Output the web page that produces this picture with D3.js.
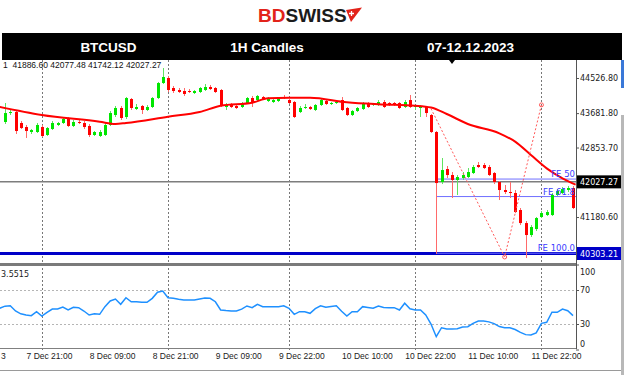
<!DOCTYPE html>
<html>
<head>
<meta charset="utf-8">
<script src="https://cdn.jsdelivr.net/npm/d3@7"></script>
<style>
  body { margin: 0; background: #fff; }
  svg { display: block; }
</style>
</head>
<body>
<div class="canvas"></div>
<script>
// header texts
const headerCells = ['BTCUSD', '1H Candles', '07-12.12.2023']
const headerEdges = [2, 215, 319, 622]

// last bar shown top left
const lastBar = [41886.60, 42077.48, 41742.12, 42027.27]

// hourly candles, 7 Dec 17:00 .. 12 Dec 06:00
const barOpen = [
  43468,43684,43708,43444,43347,43227,43227,43347,43155,43299,
  43396,43444,43540,43372,43468,43444,43372,43155,43131,43155,
  43396,43636,43805,43588,44021,43781,43853,43757,43829,44045,
  44406,44527,44286,44238,44214,44214,44166,44190,44238,44310,
  44286,44238,43829,43877,43853,43829,43925,44045,43997,44069,
  43973,43949,43973,44069,43997,43949,43708,43805,43829,43757,
  43877,43973,43901,43925,43997,43805,43636,43732,43781,43925,
  43877,43877,43949,43925,43925,43925,43829,43997,43829,43805,
  43829,43636,43227,42024,42336,42192,42072,42120,42144,42240,
  42433,42433,42385,42240,42024,41831,41783,41759,41350,41036,
  40748,40892,41181,41229,41229,41711,41759,41831,41879]
const barHigh = [
  43925,43757,43757,43492,43396,43299,43444,43396,43347,43492,
  43468,43588,43588,43516,43516,43492,43420,43251,43275,43444,
  43732,43853,43853,44069,44045,43901,43877,43877,44069,44431,
  44767,44575,44334,44286,44286,44262,44238,44310,44382,44358,
  44310,44262,43925,43925,43901,43949,44069,44094,44118,44094,
  44069,44021,44069,44118,44021,43973,43853,43901,43853,43901,
  44021,43997,43949,43973,44069,43829,43757,43829,43949,43949,
  43925,43997,43997,43949,43949,43949,43997,44118,43877,43877,
  43853,43660,43251,42601,42409,42264,42192,42264,42360,42433,
  42505,42481,42433,42264,42048,41951,42024,41831,41398,41085,
  40988,41181,41326,41350,41759,41855,41903,41927,41927]
const barLow = [
  43420,43636,43179,43299,43083,43179,43203,43107,43131,43275,
  43372,43420,43347,43347,43420,43299,43107,43131,43107,43131,
  43372,43588,43516,43540,43757,43757,43660,43732,43805,44021,
  44382,44190,44166,44166,44094,44166,44142,44166,44214,44238,
  44166,43829,43757,43805,43781,43805,43901,43829,43973,43997,
  43949,43925,43949,44021,43901,43564,43684,43781,43757,43732,
  43853,43877,43877,43901,43732,43612,43612,43708,43757,43805,
  43853,43853,43805,43853,43853,43781,43805,43805,43757,43588,
  43588,43203,40291,41975,42120,41639,41711,42072,42120,42216,
  42360,42336,42168,41975,41590,41735,41639,41277,40988,40194,
  40700,40844,41157,41205,41205,41687,41735,41783,41374]
const barClose = [
  43684,43708,43251,43323,43251,43275,43396,43131,43323,43444,
  43444,43540,43372,43468,43444,43347,43155,43227,43227,43396,
  43684,43805,43564,44045,43805,43829,43757,43829,44045,44406,
  44551,44238,44214,44190,44142,44190,44214,44286,44310,44262,
  44190,43853,43877,43829,43805,43925,44045,43949,44094,44021,
  44045,43997,44045,44045,43925,43588,43805,43829,43781,43877,
  43997,43901,43925,43949,43757,43636,43732,43805,43925,43829,
  43901,43949,43829,43877,43877,43805,43949,43829,43853,43853,
  43684,43227,41999,42312,42192,42072,42144,42192,42264,42385,
  42385,42360,42192,42024,41831,41783,41759,41301,41036,40748,
  40940,41157,41277,41301,41711,41807,41855,41879,41398]

// moving average (red line), read at some bars
const maBars = [-1,7,18,21,23,31,37,41,47,50,54,58,65,71,78,81,84,88,94,97,100,103,106,108.5]
const maVals = [43830,43636,43475,43420,43444,43595,43708,43860,43932,44038,44053,44053,
  43942,43894,43860,43817,43660,43420,43196,42994,42673,42353,42112,41960]

// RSI, one value per bar
const rsiVals = [
  51,51.5,45.3,42,40.6,39.8,44.5,39.4,43.8,47.6,
  47.6,50,46.5,49.6,49.2,45.3,40.6,42.1,41.4,50.4,
  57.1,59.4,53.2,60.9,56.2,56.2,55.5,55.5,60.2,67.3,
  68.8,60.9,60.2,59,58.2,58.2,58.2,59.5,60.5,60.2,
  56.2,46.5,45.8,45.3,45.3,47.5,51.2,49.2,53.2,50.4,
  50.4,50.4,50.4,51.5,48.5,41.4,44.5,44.5,42.6,48,
  51.5,49.6,50.5,51.5,45,39.4,44.5,44.5,50.4,49.5,
  48.5,51.2,49.5,49.2,49.2,46.5,54.4,48,46.5,46.5,
  40.6,30,15.1,25.6,24.1,24.1,24.5,26.5,26.8,30.8,
  33.5,33.5,32.5,30.5,27,25.6,25.6,23.5,20.2,17.5,
  17.1,19.5,30.8,32,43.8,43.8,47.6,45.6,39.8]
const rsiFirst = 48.5   // value at the very left edge, bar before the first
const rsiLabel = '3.5515'
const rsiTicks = [100, 70, 30, 0]
const rsiLevels = [70, 30]

// axes
const priceTicks = [44526.80, 43681.80, 42853.70, 41180.60]
const bidPrice = 42027.27
const linePrice = 40303.21
const timeBars = [-0.85, 4, 16, 28, 40, 52, 64, 76, 88, 100]
const timeLabels = ['3', '7 Dec 21:00', '8 Dec 09:00', '8 Dec 21:00', '9 Dec 09:00',
  '9 Dec 22:00', '10 Dec 10:00', '10 Dec 22:00', '11 Dec 10:00', '11 Dec 22:00']
const gridBars = [7, 31, 54, 78, 102]

// fibo expansion anchors [bar, price] and levels
const feA = [81, 43790]
const feB = [95, 40220]
const feC = [102, 43880]
const feRatios = [0.5, 0.618, 1.0]
const feLabels = ['FE 50', 'FE 61.8', 'FE 100.0']
const feStartBar = 82

// ---------------------------------------------------------------
const svgWidth = 624
const svgHeight = 375
const plotRight = 576
const mainTop = 60, mainBottom = 262
const rsiTop = 266, rsiBottom = 348
const axisFont = 'DejaVu Sans, Verdana, sans-serif'
const timeFont = 'Liberation Sans, Arial, sans-serif'

const svg = d3.select('.canvas')
  .append('svg')
  .attr('width', svgWidth)
  .attr('height', svgHeight)

// scales
const x = d3.scaleLinear().domain([0, 108]).range([5, 573])
const y = d3.scaleLinear().domain([linePrice, 44526.80]).range([253.5, 78])
const yRsi = d3.scaleLinear().domain([0, 100]).range([349.5, 264.5])

const defs = svg.append('defs')
defs.append('clipPath').attr('id', 'clipMain')
  .append('rect').attr('x', 0).attr('y', mainTop).attr('width', plotRight).attr('height', mainBottom - mainTop)
defs.append('clipPath').attr('id', 'clipRsi')
  .append('rect').attr('x', 0).attr('y', rsiTop).attr('width', plotRight).attr('height', rsiBottom - rsiTop)

// ---- header (logo + black bar)
const logo = svg.append('text')
  .attr('x', 258).attr('y', 22)
  .attr('font-family', 'Liberation Sans, Arial, sans-serif')
  .attr('font-weight', 'bold')
  .attr('font-size', 19)
logo.append('tspan').attr('fill', '#e2231a').text('BD')
logo.append('tspan').attr('fill', '#1b1b1b').text('SWISS')
svg.append('path')
  .attr('d', 'M346,10 L362,7.5 L351,22 Z')
  .attr('fill', '#e2231a')
svg.append('path')
  .attr('d', 'M351.5,11 v5 M349,13.5 h5')
  .attr('stroke', '#fff').attr('stroke-width', 1.3)

svg.append('rect')
  .attr('x', headerEdges[0]).attr('y', 33)
  .attr('width', headerEdges[3] - headerEdges[0]).attr('height', 27)
  .attr('fill', '#000')

svg.selectAll('.hcell')
  .data(headerCells)
  .enter().append('text')
  .attr('class', 'hcell')
  .attr('x', (d, i) => (headerEdges[i] + headerEdges[i + 1]) / 2)
  .attr('y', 51.5)
  .attr('text-anchor', 'middle')
  .attr('fill', '#fff')
  .attr('font-family', 'Liberation Sans, Arial, sans-serif')
  .attr('font-weight', 'bold')
  .attr('font-size', 13.5)
  .text(d => d)

// ---- grid
const grid = svg.append('g')
grid.selectAll('line')
  .data(gridBars)
  .enter().append('line')
  .attr('x1', d => Math.round(x(d)) + 0.5)
  .attr('x2', d => Math.round(x(d)) + 0.5)
  .attr('y1', mainTop)
  .attr('y2', rsiBottom + 3)
  .attr('stroke', '#777')
  .attr('stroke-width', 1)
  .attr('stroke-dasharray', '2,2')

// rsi level lines
svg.append('g').selectAll('line')
  .data(rsiLevels)
  .enter().append('line')
  .attr('x1', 0).attr('x2', plotRight)
  .attr('y1', d => Math.round(yRsi(d)) + 0.5)
  .attr('y2', d => Math.round(yRsi(d)) + 0.5)
  .attr('stroke', '#b5b5b5')
  .attr('stroke-dasharray', '2,2')

// ---- main panel
const main = svg.append('g').attr('clip-path', 'url(#clipMain)')

// bid line
main.append('line')
  .attr('x1', 0).attr('x2', plotRight)
  .attr('y1', y(bidPrice)).attr('y2', y(bidPrice))
  .attr('stroke', '#7d7d7d').attr('stroke-width', 1.5)

// horizontal blue line
main.append('line')
  .attr('x1', 0).attr('x2', plotRight)
  .attr('y1', y(linePrice)).attr('y2', y(linePrice))
  .attr('stroke', '#0000c8').attr('stroke-width', 3)

// fibo expansion levels
const feRange = feA[1] - feB[1]
const feLevels = feRatios.map(r => feC[1] - r * feRange)

main.selectAll('.fe-line')
  .data(feLevels)
  .enter().append('line')
  .attr('class', 'fe-line')
  .attr('x1', x(feStartBar)).attr('x2', plotRight)
  .attr('y1', d => y(d)).attr('y2', d => y(d))
  .attr('stroke', '#7070ff').attr('stroke-width', 1)

// candles
const bars = d3.range(barOpen.length).map(i => ({
  i: i, o: barOpen[i], h: barHigh[i], l: barLow[i], c: barClose[i]
}))

const candles = main.selectAll('.candle')
  .data(bars)
  .enter().append('g')
  .attr('class', 'candle')

candles.append('line')
  .attr('x1', d => Math.round(x(d.i)) + 0.5)
  .attr('x2', d => Math.round(x(d.i)) + 0.5)
  .attr('y1', d => y(d.h))
  .attr('y2', d => y(d.l))
  .attr('stroke', d => d.c >= d.o ? '#5fe35f' : '#ff6a6a')
  .attr('stroke-width', 1)

candles.append('rect')
  .attr('x', d => Math.round(x(d.i)) - 1)
  .attr('width', 3)
  .attr('y', d => y(Math.max(d.o, d.c)))
  .attr('height', d => Math.max(1, Math.abs(y(d.o) - y(d.c))))
  .attr('fill', d => d.c >= d.o ? '#00e600' : '#ff0000')

// moving average
const maLine = d3.line()
  .x(d => x(d[0]))
  .y(d => y(d[1]))
  .curve(d3.curveMonotoneX)

main.append('path')
  .datum(maBars.map((b, i) => [b, maVals[i]]))
  .attr('fill', 'none')
  .attr('stroke', '#ff0000')
  .attr('stroke-width', 2)
  .attr('d', maLine)

// fibo expansion dotted trend
main.append('path')
  .datum([feA, feB, feC])
  .attr('fill', 'none')
  .attr('stroke', '#ff5a5a')
  .attr('stroke-width', 1)
  .attr('stroke-dasharray', '2,2')
  .attr('d', d3.line().x(d => x(d[0])).y(d => y(d[1])))

main.selectAll('.fe-pt')
  .data([feB, feC])
  .enter().append('circle')
  .attr('class', 'fe-pt')
  .attr('cx', d => x(d[0])).attr('cy', d => y(d[1]))
  .attr('r', 2)
  .attr('fill', 'none')
  .attr('stroke', '#ff5a5a')

// fibo labels
svg.selectAll('.fe-label')
  .data(feLevels)
  .enter().append('text')
  .attr('class', 'fe-label')
  .attr('x', plotRight - 1)
  .attr('y', d => y(d) - 2)
  .attr('text-anchor', 'end')
  .attr('fill', '#3c3cff')
  .attr('font-family', axisFont)
  .attr('font-size', 8.5)
  .text((d, i) => feLabels[i])

// info line
svg.append('text')
  .attr('x', 3).attr('y', 68)
  .attr('font-family', timeFont)
  .attr('font-size', 8.5)
  .attr('fill', '#111')
  .attr('xml:space', 'preserve')
  .text('1  ' + lastBar.map(d => d.toFixed(2)).join(' '))

// shift marker
svg.append('path')
  .attr('d', 'M449,60 L455,60 L452,64 Z')
  .attr('fill', '#000')

// ---- separator between panels
svg.append('rect')
  .attr('x', 0).attr('y', 263)
  .attr('width', plotRight + 1).attr('height', 3)
  .attr('fill', '#7a7a7a')

// ---- rsi panel
const rsiPts = [[-1, rsiFirst]].concat(rsiVals.map((d, i) => [i, d]))
const rsiLine = d3.line()
  .x(d => x(d[0]))
  .y(d => yRsi(d[1]))

svg.append('g').attr('clip-path', 'url(#clipRsi)')
  .append('path')
  .datum(rsiPts)
  .attr('fill', 'none')
  .attr('stroke', '#1e90ff')
  .attr('stroke-width', 1.5)
  .attr('d', rsiLine)

svg.append('text')
  .attr('x', 1).attr('y', 277)
  .attr('font-family', axisFont)
  .attr('font-size', 8)
  .attr('fill', '#222')
  .text(rsiLabel)

svg.append('line')
  .attr('x1', 0).attr('x2', plotRight)
  .attr('y1', rsiBottom + 0.5).attr('y2', rsiBottom + 0.5)
  .attr('stroke', '#808080')

// ---- right price axis
svg.append('line')
  .attr('x1', plotRight + 0.5).attr('x2', plotRight + 0.5)
  .attr('y1', mainTop).attr('y2', rsiBottom + 1)
  .attr('stroke', '#555')

const yAxis = d3.axisRight(y)
  .tickValues(priceTicks)
  .tickSize(3)
  .tickFormat(d3.format('.2f'))

const yAxisGroup = svg.append('g')
  .attr('transform', `translate(${plotRight}, 0)`)
  .call(yAxis)
yAxisGroup.select('.domain').remove()
yAxisGroup.selectAll('text')
  .attr('font-family', axisFont).attr('font-size', 8).attr('fill', '#222').attr('x', 4)
yAxisGroup.selectAll('line').attr('stroke', '#555')

// price boxes
const boxes = [
  { p: bidPrice, fill: '#000' },
  { p: linePrice, fill: '#0000c8' }
]
const boxG = svg.selectAll('.pbox')
  .data(boxes)
  .enter().append('g').attr('class', 'pbox')
boxG.append('rect')
  .attr('x', plotRight + 1).attr('y', d => y(d.p) - 6.5)
  .attr('width', 45).attr('height', 13)
  .attr('fill', d => d.fill)
boxG.append('text')
  .attr('x', plotRight + 4).attr('y', d => y(d.p) + 3)
  .attr('font-family', axisFont).attr('font-size', 8)
  .attr('fill', '#fff')
  .text(d => d.p.toFixed(2))

// rsi axis
const rsiAxis = d3.axisRight(yRsi)
  .tickValues(rsiTicks)
  .tickSize(3)
  .tickFormat(d => d)
const rsiAxisGroup = svg.append('g')
  .attr('transform', `translate(${plotRight}, 0)`)
  .call(rsiAxis)
rsiAxisGroup.select('.domain').remove()
rsiAxisGroup.selectAll('line').attr('stroke', '#555')
rsiAxisGroup.selectAll('text')
  .attr('font-family', axisFont).attr('font-size', 8).attr('fill', '#222').attr('x', 4)
  .attr('dy', d => d === 100 ? '1.2em' : (d === 0 ? '-0.4em' : '0.32em'))

// ---- time axis
const xAxis = d3.axisBottom(x)
  .tickValues(timeBars)
  .tickSize(0)
  .tickFormat((d, i) => timeLabels[i])
const xAxisGroup = svg.append('g')
  .attr('transform', `translate(0, ${rsiBottom})`)
  .call(xAxis)
xAxisGroup.select('.domain').remove()
xAxisGroup.selectAll('text')
  .attr('text-anchor', 'start')
  .attr('font-family', timeFont).attr('font-size', 8.5).attr('fill', '#222')
  .attr('y', 5)

// bottom frame line
svg.append('line')
  .attr('x1', 0).attr('x2', svgWidth)
  .attr('y1', 370.5).attr('y2', 370.5)
  .attr('stroke', '#9a9a9a')

// window edge on the right
svg.append('rect').attr('x', 621).attr('y', 60).attr('width', 3).attr('height', 28).attr('fill', '#3a78d8')
svg.append('rect').attr('x', 621).attr('y', 115).attr('width', 3).attr('height', 260).attr('fill', '#b8b8b8')
</script>
</body>
</html>
